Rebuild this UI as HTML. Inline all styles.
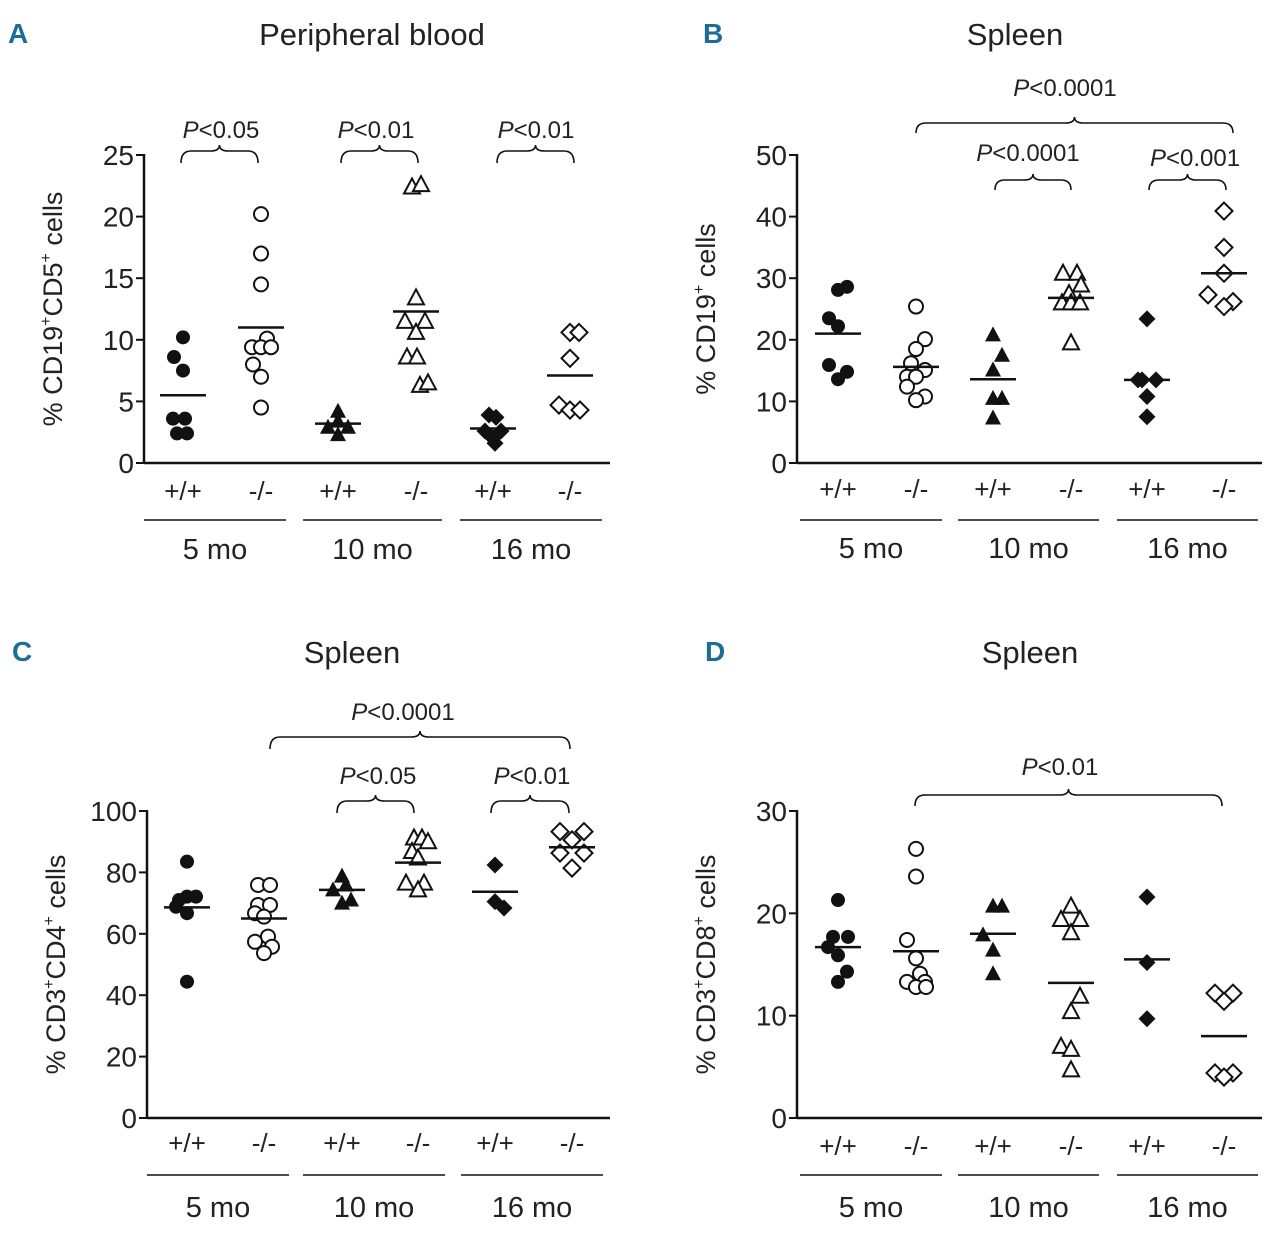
<!DOCTYPE html>
<html><head><meta charset="utf-8"><style>
html,body{margin:0;padding:0;background:#fff;}
svg text{font-family:"Liberation Sans Narrow","Liberation Sans",sans-serif;fill:#222;}
</style></head><body>
<svg id="fig" width="1280" height="1230" viewBox="0 0 1280 1230" xmlns="http://www.w3.org/2000/svg"></svg>
<script>
// ---------- DATA ----------
const groupLabels = ["+/+","-/-","+/+","-/-","+/+","-/-"];
const monthLabels = ["5 mo","10 mo","16 mo"];
// Panel A: % CD19+CD5+ cells (peripheral blood)
const aTicks = [0,5,10,15,20,25];
const aG1 = [10.2,8.6,7.5,3.6,3.6,2.4,2.4];
const aG2 = [20.2,17.0,14.5,10.1,9.4,9.4,9.4,8.0,7.0,4.5];
const aG3 = [4.2,3.4,2.9,2.9,2.3];
const aG4 = [22.4,22.6,13.4,11.5,11.5,10.6,8.6,8.6,6.3,6.5];
const aG5 = [3.9,3.7,2.6,2.6,2.0,1.6];
const aG6 = [10.6,10.6,8.5,4.7,4.3,4.3];
const aMeans = [5.5,11.0,3.2,12.3,2.8,7.1];
// Panel B: % CD19+ cells (spleen)
const bTicks = [0,10,20,30,40,50];
const bG1 = [28.6,28.1,23.5,22.2,15.9,14.8,13.6];
const bG2 = [25.4,20.1,18.5,16.2,15.1,14.0,14.0,12.4,10.8,10.2];
const bG3 = [20.8,17.5,15.1,10.5,10.5,7.3];
const bG4 = [30.8,30.8,28.9,27.5,26.0,26.0,26.0,19.5];
const bG5 = [23.4,13.5,13.5,13.5,10.8,7.5];
const bG6 = [40.9,35.0,30.8,27.3,26.2,25.4];
const bMeans = [21.0,15.6,13.6,26.8,13.5,30.8];
// Panel C: % CD3+CD4+ cells (spleen)
const cTicks = [0,20,40,60,80,100];
const cG1 = [83.5,72.1,72.1,71.0,68.8,66.7,44.4];
const cG2 = [75.9,75.9,69.4,69.4,66.7,65.6,59.1,57.4,55.8,53.7];
const cG3 = [78.8,75.9,74.3,71.0,70.0];
const cG4 = [91.2,91.2,90.0,86.8,84.7,76.5,76.5,74.3];
const cG5 = [82.4,70.5,68.4];
const cG6 = [93.3,93.3,90.6,86.3,86.3,81.4];
const cMeans = [68.6,65.0,74.3,83.2,73.7,88.2];
// Panel D: % CD3+CD8+ cells (spleen)
const dTicks = [0,10,20,30];
const dG1 = [21.3,17.7,17.7,16.7,15.9,14.3,13.3];
const dG2 = [26.3,23.6,17.4,15.6,14.1,13.3,13.3,12.8,12.8];
const dG3 = [20.7,20.7,17.9,16.4,14.1];
const dG4 = [20.7,19.4,19.4,18.1,11.9,10.4,7.0,6.7,4.7];
const dG5 = [21.6,15.2,9.7];
const dG6 = [12.2,12.2,11.4,4.4,4.4,4.0];
const dMeans = [16.7,16.3,18.0,13.2,15.5,8.0];

// jitter (horizontal spread, px) – layout only
const jA = [[0,-9,0,-10,2,-6,4],[0,0,0,6,-9,0,10,-8,0,0],[0,0,-10,10,0],[-4,5,0,-11,9,0,-9,1,4,12],[-4,3,-8,8,0,2],[0,9,0,-11,0,10]];
const jB = [[9,0,-9,0,-9,9,0],[0,9,0,-5,9,-9,0,-9,9,0],[0,9,0,0,9,0],[-8,6,10,-2,-9,0,9,0],[0,-9,-5,9,0,0],[0,0,0,-16,9,0]];
const jC = [[0,0,9,-8,-11,0,0],[-6,6,-6,6,-9,0,4,-9,8,0],[0,4,-9,9,0],[-4,4,10,-6,0,-12,6,0],[0,0,9],[-12,12,0,-12,12,0]];
const jD = [[0,-5,10,-10,0,9,0],[0,0,-9,0,4,-9,9,0,10],[0,9,-10,0,0],[0,-10,9,0,9,0,-10,0,0],[0,0,0],[-9,9,0,-9,9,0]];

// ---------- DRAW ----------
const svg = document.getElementById('fig');
const NS = 'http://www.w3.org/2000/svg';
function mk(tag, attrs, parent){ const e=document.createElementNS(NS,tag); for(const k in attrs) e.setAttribute(k,attrs[k]); (parent||svg).appendChild(e); return e; }
function txt(x,y,s,size,anchor,parent,extra){ const t=mk('text',Object.assign({x:x,y:y,'font-size':size,'text-anchor':anchor||'middle'},extra||{}),parent); t.textContent=s; return t; }

const shapes=['circle','circle','tri','tri','dia','dia'];
function marker(g,type,filled,cx,cy){
  const fill = filled?'#111':'#fff';
  const sw = 2;
  let e;
  if(type==='circle'){ e=mk('circle',{cx:cx,cy:cy,r:7,fill:fill,stroke:'#111','stroke-width':filled?0:sw},g); }
  else if(type==='tri'){ e=mk('polygon',{points:`${cx},${cy-8.5} ${cx-8},${cy+6.5} ${cx+8},${cy+6.5}`,fill:fill,stroke:'#111','stroke-width':filled?0:sw,'stroke-linejoin':'miter'},g); }
  else { e=mk('polygon',{points:`${cx},${cy-8.5} ${cx+8.5},${cy} ${cx},${cy+8.5} ${cx-8.5},${cy}`,fill:fill,stroke:'#111','stroke-width':filled?0:sw},g); }
  return e;
}
function brace(g,x1,x2,yt,yb){
  const xm=(x1+x2)/2;
  const d=`M${x1},${yb} Q${x1},${yt} ${x1+10},${yt} L${xm-9},${yt} Q${xm},${yt} ${xm},${yt-6} Q${xm},${yt} ${xm+9},${yt} L${x2-10},${yt} Q${x2},${yt} ${x2},${yb}`;
  return mk('path',{d:d,fill:'none',stroke:'#111','stroke-width':1.6},g);
}
function pLabel(g,x,y,val){
  const t=mk('text',{x:x,y:y,'font-size':24,'text-anchor':'middle'},g);
  const a=mk('tspan',{'font-style':'italic'},t); a.textContent='P';
  const b=mk('tspan',{},t); b.textContent='<'+val;
  return t;
}

function panel(cfg){
  const g=mk('g',{});
  
  
  const yScale=v=>cfg.y0-(v-cfg.ticks[0])/(cfg.ticks[cfg.ticks.length-1]-cfg.ticks[0])*(cfg.y0-cfg.yTop);
  const L=txt(cfg.letterX,cfg.titleY-2,cfg.letter,28,'start',g,{'font-weight':'bold',style:'fill:#1b6d96'});
   
  const T=txt(cfg.titleX,cfg.titleY,cfg.title,31,'middle',g);
   
  const ya=mk('line',{x1:cfg.ax,y1:cfg.yTop-1,x2:cfg.ax,y2:cfg.y0+1,stroke:'#111','stroke-width':2.5},g);
   
  const xa=mk('line',{x1:cfg.ax,y1:cfg.y0,x2:cfg.axEnd,y2:cfg.y0,stroke:'#111','stroke-width':2.5},g);
   
  cfg.ticks.forEach(v=>{
    const y=yScale(v);
    mk('line',{x1:cfg.ax-8,y1:y,x2:cfg.ax,y2:y,stroke:'#111','stroke-width':2},g);
    const t=txt(cfg.ax-10,y+10,String(v),28,'end',g);
     
  });
  const yt=mk('text',{x:0,y:0,'font-size':27,'text-anchor':'middle',transform:`translate(${cfg.ax-82},${(cfg.y0+cfg.yTop)/2}) rotate(-90)`},g);
   
  cfg.ylabel.forEach(p=>{ const s=mk('tspan',p[1]?{'font-size':16,dy:-11}:{dy:p[2]||0},yt); s.textContent=p[0]; });
  cfg.groups.forEach((arr,i)=>{
    const cx=cfg.centers[i];
    const gg=mk('g',{},g);
     
    arr.forEach((v,k)=>{
      const m=marker(gg,shapes[i],i%2===0,cx+(cfg.jit[i][k]||0),yScale(v));
      
      
    });
    const ml=mk('line',{x1:cx-23,x2:cx+23,y1:yScale(cfg.means[i]),y2:yScale(cfg.means[i]),stroke:'#111','stroke-width':2.5},gg);
     
    const gl=txt(cx,cfg.gy,groupLabels[i],26,'middle',g);
     
  });
  for(let m=0;m<3;m++){
    const ul=mk('line',{x1:cfg.ul[m][0],x2:cfg.ul[m][1],y1:cfg.uly,y2:cfg.uly,stroke:'#111','stroke-width':1.5},g);
     
    const ml=txt((cfg.ul[m][0]+cfg.ul[m][1])/2,cfg.my,monthLabels[m],29,'middle',g);
     
  }
  cfg.braces.forEach(b=>{
    const br=brace(g,b[0],b[1],b[2],b[3]);
     
    const pl=pLabel(g,b[4],b[5],b[6]);
     
  });
}

panel({name:'panel-a',letter:'A',letterX:8,title:'Peripheral blood',titleX:372,titleY:45,ax:144,axEnd:610,y0:463,yTop:155,ticks:aTicks,
  ylabel:[['% CD19'],['+',1],['CD5',0,11],['+',1],[' cells',0,11]],
  groups:[aG1,aG2,aG3,aG4,aG5,aG6],means:aMeans,jit:jA,centers:[183,261,338,416,493,570],gy:500,uly:520,my:559,
  ul:[[144,286],[303,442],[460,602]],
  braces:[[181,258,151,163,221,138,'0.05'],[341,418,151,163,376,138,'0.01'],[497,574,151,163,536,138,'0.01']]});
panel({name:'panel-b',letter:'B',letterX:703,title:'Spleen',titleX:1015,titleY:45,ax:797,axEnd:1262,y0:463,yTop:155,ticks:bTicks,
  ylabel:[['% CD19'],['+',1],[' cells',0,11]],
  groups:[bG1,bG2,bG3,bG4,bG5,bG6],means:bMeans,jit:jB,centers:[838,916,993,1071,1147,1224],gy:498,uly:520,my:558,
  ul:[[800,942],[958,1099],[1117,1258]],
  braces:[[916,1233,123,133,1065,96,'0.0001'],[995,1071,180,190,1028,161,'0.0001'],[1149,1226,180,190,1195,166,'0.001']]});
panel({name:'panel-c',letter:'C',letterX:12,title:'Spleen',titleX:352,titleY:663,ax:147,axEnd:610,y0:1118,yTop:811,ticks:cTicks,
  ylabel:[['% CD3'],['+',1],['CD4',0,11],['+',1],[' cells',0,11]],
  groups:[cG1,cG2,cG3,cG4,cG5,cG6],means:cMeans,jit:jC,centers:[187,264,342,418,495,572],gy:1152,uly:1175,my:1217,
  ul:[[147,289],[303,445],[461,603]],
  braces:[[270,570,737,749,403,720,'0.0001'],[337,414,801,813,378,784,'0.05'],[491,569,801,813,532,784,'0.01']]});
panel({name:'panel-d',letter:'D',letterX:705,title:'Spleen',titleX:1030,titleY:663,ax:797,axEnd:1262,y0:1118,yTop:811,ticks:dTicks,
  ylabel:[['% CD3'],['+',1],['CD8',0,11],['+',1],[' cells',0,11]],
  groups:[dG1,dG2,dG3,dG4,dG5,dG6],means:dMeans,jit:jD,centers:[838,916,993,1071,1147,1224],gy:1155,uly:1175,my:1217,
  ul:[[800,942],[958,1099],[1117,1258]],
  braces:[[915,1222,795,806,1060,775,'0.01']]});
</script>
</body></html>
